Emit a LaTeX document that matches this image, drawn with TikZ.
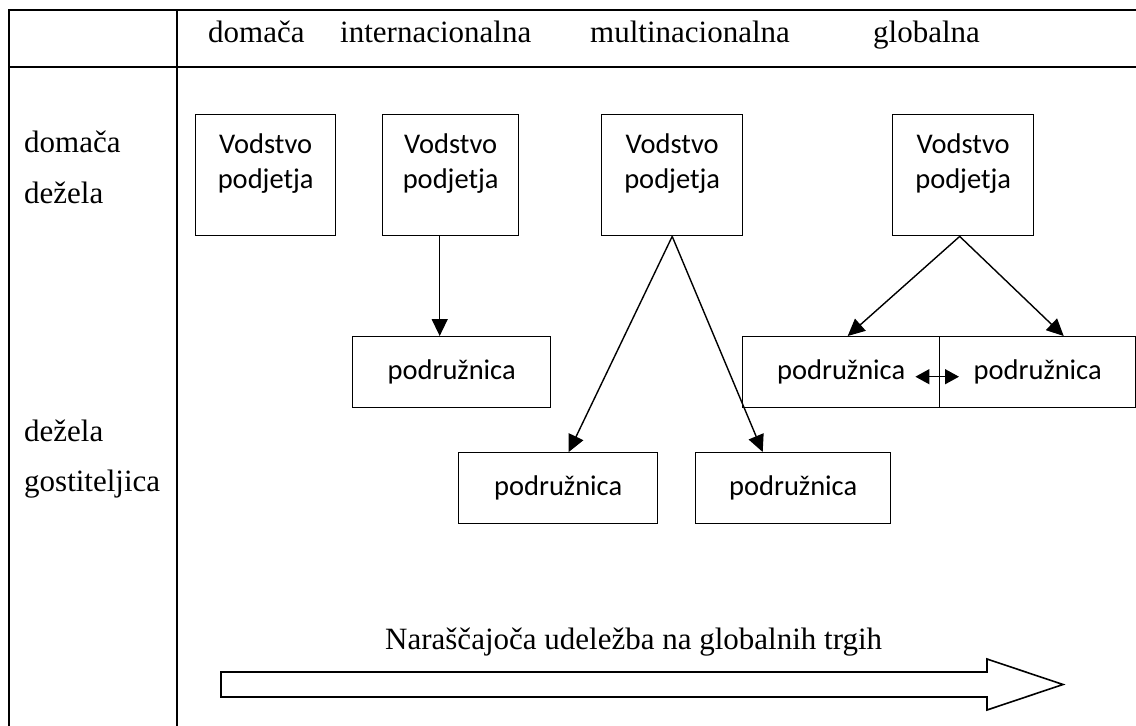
\documentclass[tikz,border=0pt]{standalone}
\usepackage{fontspec}
\setmainfont{Liberation Serif}
\newfontfamily\boxfont{Carlito}
\usetikzlibrary{arrows.meta}

% text of a management box, top aligned like in the original
\newcommand{\leadtext}[1]{\parbox[t][121pt][t]{#1pt}{\centering\rule{0pt}{39pt}Vodstvo\\podjetja}}

\begin{document}
\begin{tikzpicture}[x=1pt, y=-1pt,
    rowtext/.style={anchor=base west, inner sep=0pt, font=\fontsize{31}{37}\selectfont},
    lead/.style={draw, line width=1.4pt, inner sep=0pt, anchor=north west,
                 font=\boxfont\fontsize{28.5}{35}\selectfont},
    sub/.style={draw, line width=1.4pt, inner sep=0pt, anchor=north west, minimum height=71pt,
                font=\boxfont\fontsize{28.5}{35}\selectfont},
    arr/.style={line width=1.4pt, -{Triangle[length=17pt, width=16pt]}},
    twoway/.style={line width=1.4pt, {Triangle[length=14pt, width=15pt]}-{Triangle[length=14pt, width=15pt]}},
    rule/.style={line width=2pt}]
            \useasboundingbox (0,0) rectangle (1136,726);

            % Table lines
            \draw[rule] (1136,10) -- (9,10) -- (9,726);
            \draw[rule] (9,67) -- (1136,67);
            \draw[rule] (177,10) -- (177,726);

            % Column and row headings
            \node[rowtext] (colhome) at (208,42) {domača};
            \node[rowtext] (colinter) at (340,42) {internacionalna};
            \node[rowtext] (colmulti) at (590,42) {multinacionalna};
            \node[rowtext] (colglobal) at (873,42) {globalna};
            \node[rowtext] (rowhome1) at (24,152) {domača};
            \node[rowtext] (rowhome2) at (24,203) {dežela};
            \node[rowtext] (rowhost1) at (24,441) {dežela};
            \node[rowtext] (rowhost2) at (24,491) {gostiteljica};

            % Define nodes
            \node[lead] (lead1) at (195,114) {\leadtext{140}};
            \node[lead] (lead2) at (382,114) {\leadtext{136}};
            \node[lead] (lead3) at (601,114) {\leadtext{141}};
            \node[lead] (lead4) at (892,114) {\leadtext{141}};

            \node[sub, minimum width=198pt] (sub1) at (352,336) {podružnica};
            \node[sub, minimum width=199pt] (sub2) at (458,452) {podružnica};
            \node[sub, minimum width=195pt] (sub3) at (695,452) {podružnica};
            \node[sub, minimum width=197pt] (sub4) at (742,336) {podružnica};
            \node[sub, minimum width=196pt] (sub5) at (939,336) {podružnica};

            % Draw edges
            \draw[arr] ([xshift=-11pt]lead2.south) -- ([xshift=-12pt]sub1.north);
            \draw[arr] (lead3.south) -- ([xshift=10.5pt]sub2.north);
            \draw[arr] (lead3.south) -- ([xshift=-30.5pt]sub3.north);
            \draw[arr] ([xshift=-3.5pt]lead4.south) -- ([xshift=6.5pt]sub4.north);
            \draw[arr] ([xshift=-3.5pt]lead4.south) -- ([xshift=26pt]sub5.north);
            \draw[twoway] ([xshift=-25pt, yshift=-4.5pt]sub4.east) -- ([xshift=20pt, yshift=-4.5pt]sub5.west);

            % Growing participation
            \node[rowtext] (trend) at (385,649) {Naraščajoča udeležba na globalnih trgih};
            \draw[line width=1.6pt, line join=miter] (221,672) -- (987,672) -- (987,659) -- (1063,684.5)
                -- (987,710) -- (987,697) -- (221,697) -- cycle;

        \end{tikzpicture}
\end{document}
